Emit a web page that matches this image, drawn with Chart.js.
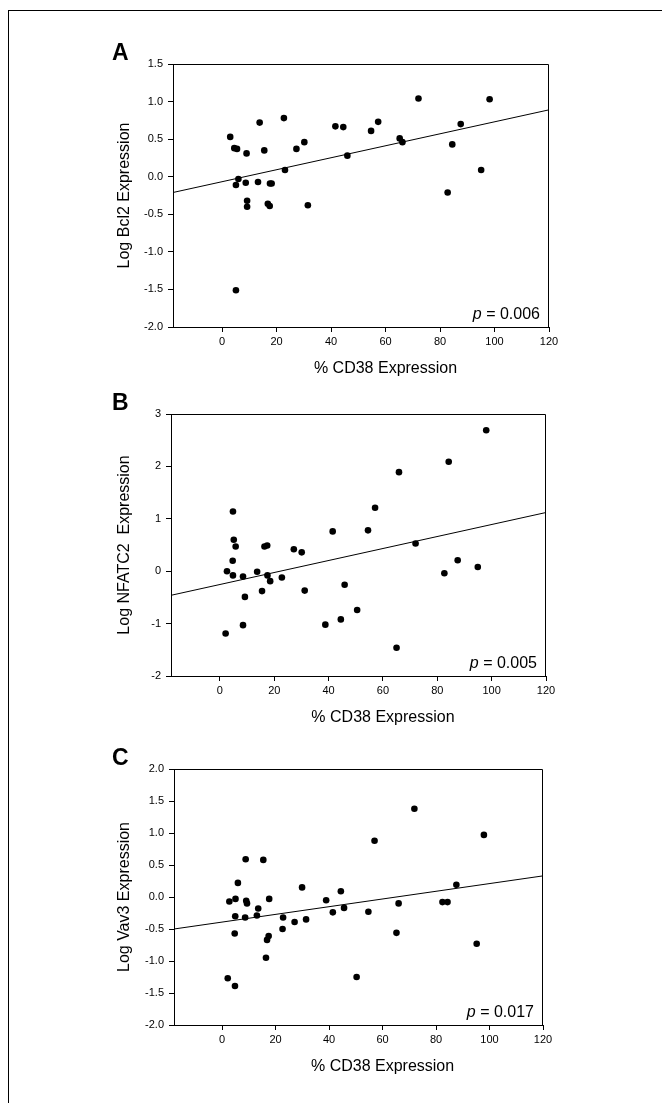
<!DOCTYPE html>
<html>
<head>
<meta charset="utf-8">
<script src="https://cdn.jsdelivr.net/npm/chart.js@4.4.1/dist/chart.umd.min.js"></script>
<style>
  html, body { margin: 0; padding: 0; background: #fff; }
  body { width: 662px; height: 1103px; position: relative; overflow: hidden; }
  #frame { position: absolute; left: 8px; top: 10px; width: 700px; height: 1200px;
           border-left: 1.5px solid #000; border-top: 1.5px solid #000; }
  canvas { position: absolute; }
</style>
</head>
<body>
<div id="frame"></div>
<canvas id="chartA"></canvas>
<canvas id="chartB"></canvas>
<canvas id="chartC"></canvas>
<script>
// x axis, shared by all three panels
var xTicks = [0, 20, 40, 60, 80, 100, 120];
var xRange = [-18, 120];

// A - Bcl2
var cd38A = [3.0, 4.5, 5.5, 13.8, 9.0, 15.5, 22.7, 27.3, 30.2, 23.1, 6.0, 5.1, 8.7, 13.2, 17.6, 18.2, 9.2, 9.2, 16.8, 17.5,
             31.5, 41.6, 44.5, 46.0, 54.7, 57.3, 65.2, 66.2, 72.1, 82.8, 84.5, 87.6, 95.1, 98.2, 5.1];
var bcl2A = [0.53, 0.38, 0.37, 0.72, 0.31, 0.35, 0.78, 0.37, 0.46, 0.09, -0.03, -0.11, -0.08, -0.07, -0.09, -0.09, -0.32, -0.40, -0.36, -0.39,
             -0.38, 0.67, 0.66, 0.28, 0.61, 0.73, 0.51, 0.46, 1.04, -0.21, 0.43, 0.70, 0.09, 1.03, -1.51];
var fitA = [-0.21, 0.89];
var yTicksA = [-2.0, -1.5, -1.0, -0.5, 0.0, 0.5, 1.0, 1.5];

// B - NFATC2
var cd38B = [98.0, 84.2, 65.9, 57.1, 4.8, 41.5, 54.5, 5.1, 5.8, 16.4, 17.4, 27.2, 30.1, 72.0, 4.7, 87.5, 94.9, 2.6, 4.8, 13.7,
             8.5, 17.5, 18.5, 22.8, 82.6, 15.5, 31.2, 9.2, 45.9, 8.5, 2.1, 38.8, 44.5, 50.5, 65.0];
var nfatc2B = [2.69, 2.09, 1.89, 1.21, 1.14, 0.76, 0.78, 0.60, 0.47, 0.47, 0.49, 0.42, 0.36, 0.53, 0.20, 0.21, 0.08, 0.00, -0.08, -0.01,
               -0.10, -0.08, -0.19, -0.12, -0.04, -0.38, -0.37, -0.49, -0.26, -1.03, -1.19, -1.02, -0.92, -0.74, -1.46];
var fitB = [-0.46, 1.12];
var yTicksB = [-2, -1, 0, 1, 2, 3];

// C - Vav3
var cd38C = [71.9, 97.9, 57.0, 8.8, 15.4, 5.9, 29.9, 44.4, 87.6, 2.7, 5.0, 9.0, 9.3, 17.6, 38.9, 13.5, 13.0, 4.9, 8.6, 22.8,
             27.1, 31.4, 41.4, 45.6, 54.7, 66.0, 82.4, 84.3, 4.7, 22.6, 65.2, 17.4, 16.8, 16.4, 95.2, 2.1, 50.3, 4.8];
var vav3C = [1.38, 0.97, 0.88, 0.59, 0.58, 0.22, 0.15, 0.09, 0.19, -0.07, -0.03, -0.06, -0.10, -0.03, -0.05, -0.18, -0.29, -0.30, -0.32, -0.32,
             -0.39, -0.35, -0.24, -0.17, -0.23, -0.10, -0.08, -0.08, -0.57, -0.50, -0.56, -0.61, -0.67, -0.95, -0.73, -1.27, -1.25, -1.39];
var fitC = [-0.50, 0.33];
var yTicksC = [-2.0, -1.5, -1.0, -0.5, 0.0, 0.5, 1.0, 1.5, 2.0];

var FONT = '"Liberation Sans", Arial, sans-serif';
Chart.defaults.font.family = FONT;
Chart.defaults.color = '#000';

var panels = [
  { id: 'chartA', letter: 'A', yTitle: 'Log Bcl2 Expression', xs: cd38A, ys: bcl2A, fit: fitA,
    yTicks: yTicksA, dec: 1, p: '0.006', area: { left: 173, right: 549, top: 64, bottom: 327 } },
  { id: 'chartB', letter: 'B', yTitle: 'Log NFATC2  Expression', xs: cd38B, ys: nfatc2B, fit: fitB,
    yTicks: yTicksB, dec: 0, p: '0.005', area: { left: 171, right: 546, top: 414, bottom: 676 } },
  { id: 'chartC', letter: 'C', yTitle: 'Log Vav3 Expression', xs: cd38C, ys: vav3C, fit: fitC,
    yTicks: yTicksC, dec: 1, p: '0.017', area: { left: 174, right: 543, top: 769, bottom: 1025 } }
];

var CANVAS_LEFT = 90, PAD_TOP = 30, PAD_RIGHT = 20, X_BOX = 62;

// letter, p value, x title and the top/right frame of the plot
var extras = {
  id: 'extras',
  afterDraw: function (chart, args, o) {
    var ctx = chart.ctx, a = chart.chartArea, xs = chart.scales.x;
    ctx.save();
    ctx.strokeStyle = '#000';
    ctx.lineWidth = 1;
    ctx.beginPath();
    ctx.moveTo(a.left, a.top + 0.5);
    ctx.lineTo(a.right - 0.5, a.top + 0.5);
    ctx.lineTo(a.right - 0.5, a.bottom);
    ctx.stroke();

    ctx.fillStyle = '#000';
    ctx.textBaseline = 'alphabetic';
    ctx.textAlign = 'left';
    ctx.font = 'bold 23px ' + FONT;
    ctx.fillText(o.letter, 112 - CANVAS_LEFT, a.top - 4);

    ctx.font = '16px ' + FONT;
    var rest = ' = ' + o.p;
    var w = ctx.measureText(rest).width;
    var rx = a.right - 9;
    ctx.fillText(rest, rx - w, a.bottom - 8);
    ctx.font = 'italic 16px ' + FONT;
    var pw = ctx.measureText('p').width;
    ctx.fillText('p', rx - w - pw, a.bottom - 8);

    ctx.font = '16px ' + FONT;
    ctx.textAlign = 'center';
    ctx.textBaseline = 'middle';
    ctx.fillText('% CD38 Expression', xs.getPixelForValue(60), a.bottom + 42);
    ctx.restore();
  }
};

panels.forEach(function (pn) {
  var cv = document.getElementById(pn.id);
  var top = pn.area.top - PAD_TOP;
  var w = pn.area.right + PAD_RIGHT - CANVAS_LEFT;
  var h = pn.area.bottom + X_BOX - top;
  cv.width = w; cv.height = h;
  cv.style.left = CANVAS_LEFT + 'px';
  cv.style.top = top + 'px';
  cv.style.width = w + 'px';
  cv.style.height = h + 'px';

  var pts = pn.xs.map(function (x, i) { return { x: x, y: pn.ys[i] }; });
  var yAxisWidth = pn.area.left - CANVAS_LEFT;

  new Chart(cv, {
    type: 'scatter',
    data: {
      datasets: [{
        data: pts,
        pointRadius: 3.3,
        pointBackgroundColor: '#000',
        pointBorderWidth: 0
      }, {
        type: 'line',
        data: [{ x: xRange[0], y: pn.fit[0] }, { x: xRange[1], y: pn.fit[1] }],
        showLine: true,
        borderColor: '#000',
        borderWidth: 1,
        pointRadius: 0
      }]
    },
    options: {
      responsive: false,
      animation: false,
      layout: { padding: { top: PAD_TOP, right: PAD_RIGHT, left: 0, bottom: 0 } },
      plugins: {
        legend: { display: false },
        tooltip: { enabled: false },
        extras: { letter: pn.letter, p: pn.p }
      },
      scales: {
        x: {
          type: 'linear',
          min: xRange[0], max: xRange[1],
          afterBuildTicks: function (s) { s.ticks = xTicks.map(function (v) { return { value: v }; }); },
          afterFit: function (s) { s.height = X_BOX; },
          grid: { drawOnChartArea: false, tickLength: 5, color: '#000' },
          border: { color: '#000', width: 1 },
          ticks: { font: { size: 11 }, color: '#000', padding: 3, maxRotation: 0 }
        },
        y: {
          type: 'linear',
          min: pn.yTicks[0], max: pn.yTicks[pn.yTicks.length - 1],
          afterBuildTicks: function (s) { s.ticks = pn.yTicks.map(function (v) { return { value: v }; }); },
          afterFit: function (s) { s.width = yAxisWidth; },
          grid: { drawOnChartArea: false, tickLength: 5, color: '#000' },
          border: { color: '#000', width: 1 },
          ticks: {
            font: { size: 11 }, color: '#000', padding: 5,
            callback: function (v) { return Number(v).toFixed(pn.dec); }
          },
          title: {
            display: true, text: pn.yTitle, color: '#000',
            font: { size: 16 }, padding: { top: 25, bottom: 0 }
          }
        }
      }
    },
    plugins: [extras]
  });
});
</script>
</body>
</html>
